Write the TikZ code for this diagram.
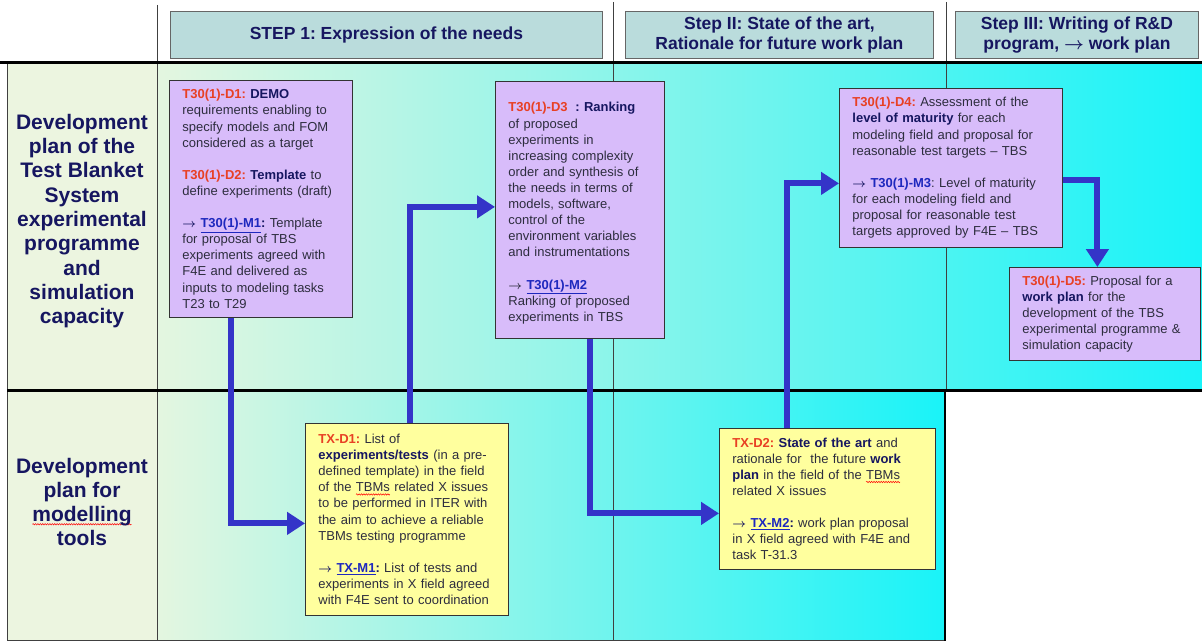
\documentclass[tikz,border=0pt]{standalone}
\usepackage{fontspec}
\setmainfont{Liberation Sans}
\usetikzlibrary{arrows.meta,decorations.pathmorphing}

\definecolor{navy}{RGB}{22,22,96}
\definecolor{tagred}{RGB}{232,64,36}
\definecolor{linkblue}{RGB}{30,40,190}
\definecolor{bodytext}{RGB}{45,45,62}
\definecolor{flowblue}{RGB}{52,52,200}
\definecolor{lilac}{RGB}{216,188,250}
\definecolor{paleyellow}{RGB}{255,255,158}
\definecolor{headfill}{RGB}{186,220,220}
\definecolor{labelfill}{RGB}{236,245,224}
\definecolor{fadeL}{RGB}{228,246,224}
\definecolor{fadeM}{RGB}{130,246,240}
\definecolor{fadeR}{RGB}{25,243,248}

% text helpers
\newcommand\deliv[1]{\textcolor{tagred}{\textbf{#1}}}
\newcommand\keyw[1]{\textcolor{navy}{\textbf{#1}}}
\newcommand\mslink[1]{\textcolor{linkblue}{\underline{\textbf{#1}}}}
\newcommand\rarr{{\boldmath$\rightarrow$}}
% red wavy spell-check underline
\newlength\sqw
\newcommand\squiggle[1]{\settowidth\sqw{#1}\rlap{\tikz[overlay,baseline=0pt]\draw[red,line width=0.5pt,decorate,decoration={snake,amplitude=0.7pt,segment length=2.4pt}] (0pt,-2.6pt) -- (\sqw,-2.6pt);}#1}

\tikzset{
  box/.style={draw=black!80, line width=0.8pt, anchor=north west,
    inner xsep=13pt, inner ysep=0pt, align=left,
    font=\fontsize{13}{16.1}\selectfont\frenchspacing, text=bodytext},
  lilacbox/.style={box, fill=lilac},
  yellowbox/.style={box, fill=paleyellow},
  headbox/.style={draw=black!60, line width=0.8pt, fill=headfill,
    anchor=north west, align=center, inner sep=0pt,
    font=\fontsize{17.5}{20.5}\selectfont\bfseries\frenchspacing, text=navy},
  rowlabel/.style={align=center, font=\fontsize{21}{24.3}\selectfont\bfseries, text=navy},
  flow/.style={draw=flowblue, line width=6pt,
    -{Triangle[length=18pt,width=22pt]}},
  gridthin/.style={draw=black!75, line width=0.9pt},
  gridthick/.style={draw=black, line width=3pt}
}

\begin{document}
\begin{tikzpicture}[x=1pt,y=-1pt]
\useasboundingbox (0,0) rectangle (1202,642);
\fill[white] (0,0) rectangle (1202,642);

% row backgrounds
\fill[labelfill] (7,63) rectangle (157,640);
\shade[left color=fadeL, middle color=fadeM, right color=fadeR] (157,63) rectangle (1202,390);
\shade[left color=fadeL, middle color=fadeM, right color=fadeR] (157,390) rectangle (945,640);

% table rules
\draw[gridthin] (157,5) -- (157,640);
\draw[gridthin] (613,2) -- (613,640);
\draw[gridthin] (946,2) -- (946,390);
\draw[gridthin] (7,63) -- (7,640) -- (945,640);
\draw[gridthick] (0,63) -- (1202,63);
\draw[gridthick] (7,390) -- (1202,390);
\draw[draw=black, line width=2.5pt] (945,390) -- (945,641);

% column headers
\node[headbox, minimum width=432pt, minimum height=47pt] (H1) at (170,11)
  {STEP 1: Expression of the needs};
\node[headbox, minimum width=308pt, minimum height=47pt] (H2) at (625,11)
  {Step II: State of the art,\\Rationale for future work plan};
\node[headbox, minimum width=243pt, minimum height=47pt] (H3) at (955,11)
  {Step III: Writing of R\&D\\program, \rarr{} work plan};

% row labels
\node[rowlabel] (L1) at (82,221)
  {Development\\plan of the\\Test Blanket\\System\\experimental\\programme\\and\\simulation\\capacity};
\node[rowlabel] (L2) at (82,502)
  {Development\\plan for\\\squiggle{modelling}\\tools};

% deliverables, upper row
\node[lilacbox, text width=157pt, minimum height=237pt] (D1) at (169,80)
  {\deliv{T30(1)-D1:} \keyw{DEMO}\\
   requirements enabling to\\
   specify models and FOM\\
   considered as a target\\[16.1pt]
   \deliv{T30(1)-D2:} \keyw{Template} to\\
   define experiments (draft)\\[16.1pt]
   \textcolor{navy}{\rarr} \mslink{T30(1)-M1}\keyw{:} Template\\
   for proposal of TBS\\
   experiments agreed with\\
   F4E and delivered as\\
   inputs to modeling tasks\\
   T23 to T29};

\node[lilacbox, text width=143pt, minimum height=257pt] (D3) at (495,81)
  {\mbox{}\\
   \deliv{T30(1)-D3}\hspace{0.6em}\keyw{: Ranking}\\
   of proposed\\
   experiments in\\
   increasing complexity\\
   order and synthesis of\\
   the needs in terms of\\
   models,\ software,\\
   control of the\\
   environment variables\\
   and instrumentations\\[16.1pt]
   \rarr\ \mslink{T30(1)-M2}\\
   Ranking of proposed\\
   experiments in TBS};

\node[lilacbox, text width=197pt, minimum height=159pt] (D4) at (839,88)
  {\deliv{T30(1)-D4:} Assessment of the\\
   \keyw{level of maturity} for each\\
   modeling field and proposal for\\
   reasonable test targets – TBS\\[16.1pt]
   \textcolor{navy}{\rarr} \textcolor{linkblue}{\textbf{T30(1)-M3}}: Level of maturity\\
   for each modeling field and\\
   proposal for reasonable test\\
   targets approved by F4E – TBS};

\node[lilacbox, text width=165pt, minimum height=93pt] (D5) at (1009,267)
  {\deliv{T30(1)-D5:} Proposal for a\\
   \keyw{work plan} for the\\
   development of the TBS\\
   experimental programme \&\\
   simulation capacity};

% deliverables, lower row
\node[yellowbox, text width=177pt, minimum height=192pt] (TXD1) at (305,423)
  {\deliv{TX-D1:} List of\\
   \keyw{experiments/tests} (in a pre-\\
   defined template) in the field\\
   of the \squiggle{TBMs} related X issues\\
   to be performed in ITER with\\
   the aim to achieve a reliable\\
   TBMs testing programme\\[16.1pt]
   \textcolor{navy}{\rarr} \mslink{TX-M1}\keyw{:} List of tests and\\
   experiments in X field agreed\\
   with F4E sent to coordination};

\node[yellowbox, text width=190pt, minimum height=141pt] (TXD2) at (719,428)
  {\deliv{TX-D2:} \keyw{State of the art} and\\
   rationale for\ \ the future \keyw{work}\\
   \keyw{plan} in the field of the \squiggle{TBMs}\\
   related X issues\\[16.1pt]
   \textcolor{navy}{\rarr} \mslink{TX-M2}\keyw{:} work plan proposal\\
   in X field agreed with F4E and\\
   task T-31.3};

% work flow
\draw[flow] ([xshift=-29.5pt]D1.south) |- ([yshift=-4pt]TXD1.west);
\draw[flow] ([xshift=3.5pt]TXD1.north) |- ([yshift=3pt]D3.west);
\draw[flow] ([xshift=10.5pt]D3.south) |- ([yshift=-14.5pt]TXD2.west);
\draw[flow] ([xshift=-40pt]TXD2.north) |- ([yshift=-15.5pt]D4.west);
\draw[flow] ([yshift=-12.5pt]D4.east) -| ([xshift=-7.5pt]D5.north);
\end{tikzpicture}
\end{document}
